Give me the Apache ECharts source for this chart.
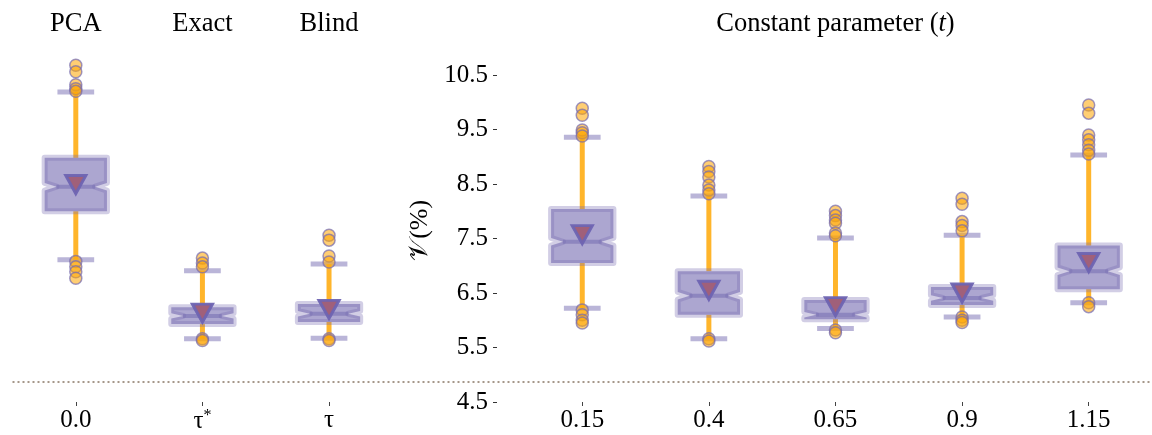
<!DOCTYPE html>
<html><head><meta charset="utf-8">
<script src="https://cdn.jsdelivr.net/npm/echarts@6/dist/echarts.min.js"></script>
<style>html,body{margin:0;padding:0;background:#fff}#c{width:1152px;height:435px}</style>
</head><body><div id="c"></div>
<script>
// ---- data ----
const categories = ['0.0', 'τ*', 'τ', '', '0.15', '0.4', '0.65', '0.9', '1.15'];
const topLabels  = ['PCA', 'Exact', 'Blind', '', '', '', 'Constant parameter (t)', '', ''];
const yTicks     = [4.5, 5.5, 6.5, 7.5, 8.5, 9.5, 10.5];
const boxIndex   = [0, 1, 2, 4, 5, 6, 7, 8];
const capLow     = [7.11, 5.66, 5.67, 6.22, 5.66, 5.85, 6.06, 6.32];
const q1         = [8.00, 5.93, 5.97, 7.05, 6.10, 6.02, 6.28, 6.57];
const notchLow   = [8.38, 6.03, 6.07, 7.37, 6.38, 6.05, 6.36, 6.83];
const median     = [8.45, 6.08, 6.12, 7.44, 6.45, 6.10, 6.41, 6.90];
const notchHigh  = [8.52, 6.13, 6.17, 7.51, 6.52, 6.15, 6.46, 6.97];
const q3         = [8.98, 6.24, 6.30, 8.04, 6.90, 6.37, 6.61, 7.37];
const capHigh    = [10.19, 6.91, 7.03, 9.36, 8.28, 7.51, 7.56, 9.03];
const mean       = [8.49, 6.13, 6.20, 7.57, 6.55, 6.25, 6.50, 7.06];
const outliers   = [
  [10.68, 10.56, 10.32, 10.25, 10.20, 7.08, 6.98, 6.89, 6.77],
  [7.14, 7.05, 6.98, 5.66, 5.63],
  [7.56, 7.47, 7.18, 7.07, 5.66, 5.63],
  [9.89, 9.76, 9.49, 9.44, 9.38, 6.19, 6.10, 6.00, 5.95],
  [8.82, 8.73, 8.63, 8.48, 8.39, 8.32, 5.66, 5.62],
  [8.00, 7.92, 7.84, 7.78, 7.60, 7.55, 5.82, 5.77],
  [8.24, 8.13, 7.81, 7.74, 7.64, 6.06, 6.00, 5.96],
  [9.95, 9.80, 9.40, 9.31, 9.22, 9.12, 9.05, 6.32, 6.25]
];
const separatorValue = 4.88;

// ---- styles ----
const FONT = 'Liberation Serif';
const ORANGE = '#FFB52B';

const boxData = boxIndex.map((c, i) => [c, capLow[i], q1[i], notchLow[i], median[i], notchHigh[i], q3[i], capHigh[i]]);
const outlierData = [];
outliers.forEach((arr, i) => arr.forEach(v => outlierData.push([boxIndex[i], v])));
const meanData = boxIndex.map((c, i) => [c, mean[i]]);

function renderBox(params, api) {
  const x = api.value(0);
  const P = v => api.coord([x, v]);
  const band = api.size([1, 0])[0];
  const hw = band * 0.246, nw = hw * 0.62, cw = band * 0.145;
  const cx = P(api.value(4))[0];
  const yCapL = P(api.value(1))[1], yQ1 = P(api.value(2))[1], yNL = P(api.value(3))[1];
  const yMed = P(api.value(4))[1], yNH = P(api.value(5))[1], yQ3 = P(api.value(6))[1], yCapH = P(api.value(7))[1];
  const L = cx - hw, R = cx + hw;
  const whisk = {stroke: ORANGE, lineWidth: 5};
  const cap = {stroke: 'rgba(117,107,177,0.5)', lineWidth: 5};
  return {type: 'group', children: [
    {type: 'line', shape: {x1: cx - cw, y1: yCapH, x2: cx + cw, y2: yCapH}, style: cap},
    {type: 'line', shape: {x1: cx - cw, y1: yCapL, x2: cx + cw, y2: yCapL}, style: cap},
    {type: 'line', shape: {x1: cx, y1: yCapH, x2: cx, y2: yQ3}, style: whisk},
    {type: 'line', shape: {x1: cx, y1: yQ1, x2: cx, y2: yCapL}, style: whisk},
    {type: 'polygon', shape: {points: [[L, yQ1], [R, yQ1], [R, yNL], [cx + nw, yMed], [R, yNH], [R, yQ3],
        [L, yQ3], [L, yNH], [cx - nw, yMed], [L, yNL]]},
      style: {fill: 'rgba(117,107,177,0.6)', stroke: 'rgba(117,107,177,0.33)', lineWidth: 6, lineJoin: 'round'}},
    {type: 'line', shape: {x1: cx - nw, y1: yMed, x2: cx + nw, y2: yMed}, style: {stroke: 'rgba(117,107,177,0.55)', lineWidth: 4}}
  ]};
}

const chart = echarts.init(document.getElementById('c'), null, {renderer: 'canvas'});
chart.setOption({
  animation: false,
  backgroundColor: '#fff',
  grid: {left: 12.5, top: 58.65, width: 1152, bottom: 33},
  xAxis: [{
    type: 'category', data: categories, position: 'bottom',
    axisLine: {show: false},
    axisTick: {show: true, alignWithLabel: true, length: 4, interval: (i, v) => v !== '', lineStyle: {color: '#444', width: 1}},
    axisLabel: {interval: 0, margin: 6, color: '#000', fontFamily: FONT, fontSize: 25,
      formatter: v => v === 'τ*' ? '{t|τ}{s|*}' : v,
      rich: {t: {fontFamily: FONT, fontSize: 25, color: '#000'}, s: {fontFamily: FONT, fontSize: 16, color: '#000', padding: [0, 0, 11, 0]}}},
    splitLine: {show: false}
  }, {
    type: 'category', data: topLabels, position: 'top',
    axisLine: {show: false}, axisTick: {show: false},
    axisLabel: {interval: 0, margin: 21, color: '#000', fontFamily: FONT, fontSize: 26.5,
      formatter: v => v.indexOf('(t)') >= 0 ? '{n|Constant parameter (}{i|t}{n|)}' : v,
      rich: {n: {fontFamily: FONT, fontSize: 26.5, color: '#000'}, i: {fontFamily: FONT, fontSize: 26.5, fontStyle: 'italic', color: '#000'}}},
    splitLine: {show: false}
  }],
  yAxis: {
    type: 'value', min: 4.5, max: 10.8, position: 'left', offset: -484.5,
    name: '𝒱(%)', nameLocation: 'middle', nameRotate: 90, nameGap: 62,
    nameTextStyle: {fontFamily: FONT, fontSize: 26, color: '#000'},
    axisLine: {show: false},
    axisTick: {show: true, length: 4, customValues: yTicks, lineStyle: {color: '#333', width: 1}},
    axisLabel: {customValues: yTicks, margin: 9, color: '#000', fontFamily: FONT, fontSize: 25, formatter: v => v.toFixed(1)},
    splitLine: {show: false}
  },
  series: [{
    type: 'custom', renderItem: renderBox, data: boxData, clip: false, z: 2,
    encode: {x: 0, y: [1, 2, 3, 4, 5, 6, 7]},
    markLine: {silent: true, symbol: 'none', label: {show: false},
      lineStyle: {type: [2, 3], color: '#A5978A', width: 2},
      data: [{yAxis: separatorValue}]}
  }, {
    type: 'scatter', data: meanData, symbol: 'triangle', symbolRotate: 180, symbolSize: [20, 18], z: 3, clip: false,
    itemStyle: {color: '#A0607A', borderColor: 'rgba(110,100,178,0.95)', borderWidth: 3, opacity: 1}
  }, {
    type: 'scatter', data: outlierData, symbol: 'circle', symbolSize: 12, z: 4, clip: false,
    itemStyle: {color: 'rgba(255,165,0,0.55)', borderColor: 'rgba(117,107,177,0.7)', borderWidth: 1.5, opacity: 1}
  }]
});
</script></body></html>
